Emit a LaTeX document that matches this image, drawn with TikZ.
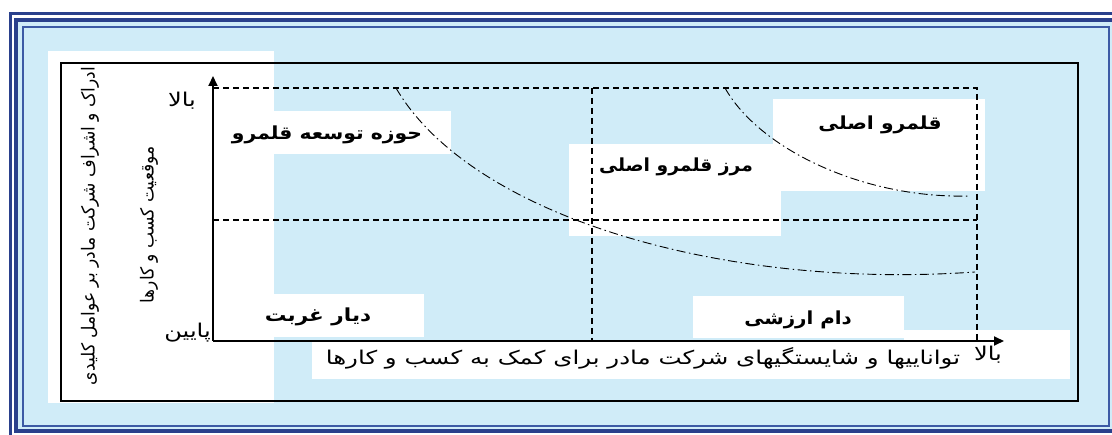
\documentclass[tikz,border=0pt]{standalone}
\usepackage{fontspec}
\usepackage{graphicx}
\newfontfamily\fa[Script=Arabic]{DejaVu Sans}
\TeXXeTstate=1
\usetikzlibrary{arrows.meta}
\definecolor{bblue}{RGB}{42,64,140}
\definecolor{mblue}{RGB}{60,90,165}
\definecolor{lblue}{RGB}{208,236,248}
\tikzset{
  wbox/.style={fill=white},
  dashline/.style={black,line width=1.1pt,dash pattern=on 6pt off 4pt},
  curveline/.style={black,line width=0.9pt,dash pattern=on 9pt off 3.5pt on 1.5pt off 3.5pt},
  axisline/.style={black,line width=1.8pt,-{Triangle[length=10pt,width=9pt]}},
  rlab/.style={font=\fa\fontsize{19}{21}\selectfont,inner sep=0pt},
  vlab/.style={font=\fa\fontsize{18}{20}\selectfont,inner sep=0pt,rotate=90},
  blab/.style={font=\fa\bfseries\fontsize{18}{20}\selectfont,inner sep=0pt},
}
\begin{document}
\begin{tikzpicture}[x=1pt,y=-1pt]
\useasboundingbox (0,0) rectangle (1112,435);
\clip (0,0) rectangle (1112,435);
\fill[white] (0,0) rectangle (1112,435);
% frame
\fill[lblue] (16,20) rectangle (1116,431);
\draw[bblue,line width=3pt] (10,13.5) rectangle (1122,438);
\draw[bblue,line width=4pt] (16,20) rectangle (1116,431);
\draw[mblue,line width=2pt] (23,27) rectangle (1109,426);
% white boxes
\fill[wbox] (48,51) rectangle (274,403);
\fill[wbox] (273,111) rectangle (451,154);
\fill[wbox] (569,144) rectangle (781,236);
\fill[wbox] (773,99) rectangle (985,191);
\fill[wbox] (273,294) rectangle (424,337);
\fill[wbox] (693,296) rectangle (904,338);
\fill[wbox] (312,342) rectangle (905,379);
\fill[wbox] (904,330) rectangle (1070,379);
% black box
\draw[black,line width=1.5pt] (61,63) rectangle (1078,401);
% coordinates
\coordinate (O) at (213,341);
\coordinate (ytop) at (213,76);
\coordinate (xend) at (1004,341);
\coordinate (tl) at (213,88);
\coordinate (tr) at (977,88);
\coordinate (br) at (977,341);
\coordinate (ml) at (213,220);
\coordinate (mr) at (977,220);
\coordinate (mt) at (592,88);
\coordinate (mb) at (592,341);
% dashed grid
\draw[dashline] (tl) -- (tr) -- (br);
\draw[dashline] (ml) -- (mr);
\draw[dashline] (mt) -- (mb);
% curves
\coordinate (c1s) at (396,88);
\coordinate (c1e) at (975,272);
\coordinate (c2s) at (725,88);
\coordinate (c2e) at (970,196);
\draw[curveline] (c1s) .. controls (470,215) and (720,290) .. (c1e);
\draw[curveline] (c2s) .. controls (760,150) and (865,199) .. (c2e);
% axes
\draw[axisline] (O) -- (ytop);
\draw[axisline] (O) -- (xend);
% labels
\node[rlab] (yhigh) at (182,101) {\scalebox{1.27}[1]{\beginR بالا\endR}};
\node[rlab,anchor=east] (ylow) at (211,333) {\scalebox{1.27}[1]{\beginR پایین\endR}};
\node[rlab] (xhigh) at (988,355) {\scalebox{1.27}[1]{\beginR بالا\endR}};
\node[vlab] (ylab1) at (90,226) {\scalebox{0.95}[1]{\beginR ادراک و اشراف شرکت مادر بر عوامل کلیدی\endR}};
\node[vlab] (ylab2) at (149,225) {\scalebox{0.95}[1]{\beginR موقعیت کسب و کارها\endR}};
\node[rlab] (xlab) at (643,358) {\scalebox{1.29}[1]{\beginR تواناییها و شایستگیهای شرکت مادر برای کمک به کسب و کارها\endR}};
\node[blab] (q1) at (327,135) {\scalebox{1.13}[1]{\beginR حوزه توسعه قلمرو\endR}};
\node[blab] (q2) at (676,167) {\scalebox{1.04}[1]{\beginR مرز قلمرو اصلی\endR}};
\node[blab] (q3) at (880,125) {\scalebox{1.13}[1]{\beginR قلمرو اصلی\endR}};
\node[blab] (q4) at (318,317) {\scalebox{1.2}[1]{\beginR دیار غربت\endR}};
\node[blab] (q5) at (798,320) {\scalebox{1.1}[1]{\beginR دام ارزشی\endR}};
\end{tikzpicture}
\end{document}
